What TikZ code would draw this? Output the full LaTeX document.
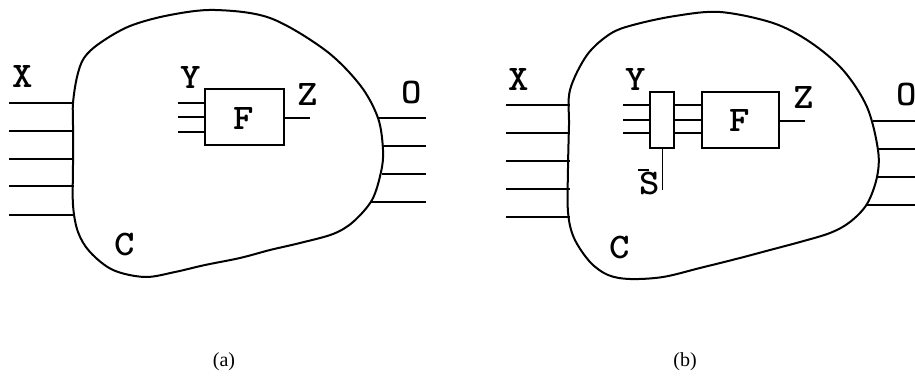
\documentclass[tikz,border=0pt]{standalone}
\usepackage{fontspec}
\setmainfont{Liberation Serif}
\newcommand{\wl}[1]{\scalebox{1.08}[1]{#1}}
\tikzset{
  blob/.style={draw=black,line width=2pt},
  wire/.style={draw=black,line width=1.4pt},
  boxnode/.style={draw=black,line width=2pt,inner sep=0pt,fill=white},
  lbl/.style={inner sep=0pt,font=\ttfamily\bfseries\fontsize{36}{36}\selectfont},
  captext/.style={inner sep=0pt,font=\fontsize{20}{22}\selectfont}
}
\begin{document}
\begin{tikzpicture}[x=1pt,y=-1pt]
\useasboundingbox (0,0) rectangle (915,379);
% ---------- (a) ----------
\draw[blob] plot[smooth cycle,tension=0.55] coordinates {(73,125)(73,103)(77,77)(84,58)(100,43)(130,26)(170,15)(215,10)(270,18)(325,50)(360,85)(378,118)(383,150)(381,172)(372,200)(353,222)(333,234)(300,243)(270,250)(240,258)(205,265)(175,272)(145,277)(113,270)(90,252)(78,232)(73,205)(73,165)};
\node[boxnode,minimum width=79pt,minimum height=56pt] (Fa) at (244.5,117.5) {};
\node[lbl] (Fal) at (244,119) {\wl{F}};
\node[lbl] (Xa) at (23,77) {\wl{X}};
\node[lbl] (Ya) at (191,78) {\wl{Y}};
\node[lbl] (Za) at (308,95) {\wl{Z}};
\node[lbl] (Oa) at (412,93) {\wl{O}};
\node[lbl] (Ca) at (125,245) {\wl{C}};
\foreach \y/\n in {103/1,131/2,159/3,186/4,215/5}{
  \coordinate (ax\n) at (9,\y);
  \coordinate (bx\n) at (74,\y);
  \draw[wire] (ax\n) -- (bx\n);
}
\foreach \y/\n in {103/1,117/2,132/3}{
  \coordinate (ay\n) at (178,\y);
  \draw[wire] (ay\n) -- (ay\n -| Fa.west);
}
\coordinate (az) at (310,118);
\draw[wire] (Fa.east |- az) -- (az);
\foreach \xs/\y/\n in {377/118/1,382/146/2,382/174/3,371/202/4}{
  \coordinate (ao\n) at (\xs,\y);
  \coordinate (ae\n) at (426,\y);
  \draw[wire] (ao\n) -- (ae\n);
}
% ---------- (b) ----------
\draw[blob] plot[smooth cycle,tension=0.55] coordinates {(569,125)(570,90)(587,55)(610,34)(633,25)(675,16)(720,12)(773,23)(810,42)(843,70)(867,107)(878,150)(877,177)(867,204)(850,222)(830,233)(800,242)(770,250)(740,258)(700,268)(663,277)(630,279)(608,275)(590,262)(574,238)(568,212)(568,168)};
\node[boxnode,minimum width=24pt,minimum height=56pt] (M) at (662,120) {};
\node[boxnode,minimum width=77pt,minimum height=56pt] (Fb) at (740,120) {};
\node[lbl] (Fbl) at (740,121) {\wl{F}};
\node[lbl] (Xb) at (519,80) {\wl{X}};
\node[lbl] (Yb) at (636,80) {\wl{Y}};
\node[lbl] (Zb) at (804,98) {\wl{Z}};
\node[lbl,anchor=west] (Ob) at (896,95) {\wl{O}};
\node[lbl] (Cb) at (620,248) {\wl{C}};
\node[lbl] (Sb) at (650,184) {\wl{S}};
\draw[line width=2.6pt] (Sb.center)++(-12,-14) -- ++(11,0);
\foreach \y/\n in {105/1,133/2,161/3,189/4,217/5}{
  \coordinate (cx\n) at (506,\y);
  \coordinate (dx\n) at (570,\y);
  \draw[wire] (cx\n) -- (dx\n);
}
\foreach \y/\n in {105/1,120/2,133/3}{
  \coordinate (cy\n) at (623,\y);
  \draw[wire] (cy\n) -- (cy\n -| M.west);
  \draw[wire] (cy\n -| M.east) -- (cy\n -| Fb.west);
}
\coordinate (cz) at (805,121);
\draw[wire] (Fb.east |- cz) -- (cz);
\coordinate (cs) at (662.5,190);
\draw[line width=1pt] (M.south -| cs) -- (cs);
\foreach \xs/\y/\n in {873/121/1,878/149/2,878/177/3,866/205/4}{
  \coordinate (co\n) at (\xs,\y);
  \coordinate (ce\n) at (915,\y);
  \draw[wire] (co\n) -- (ce\n);
}
% ---------- captions ----------
\node[captext] (capa) at (224,362) {(a)};
\node[captext] (capb) at (685,362) {(b)};
\end{tikzpicture}
\end{document}
